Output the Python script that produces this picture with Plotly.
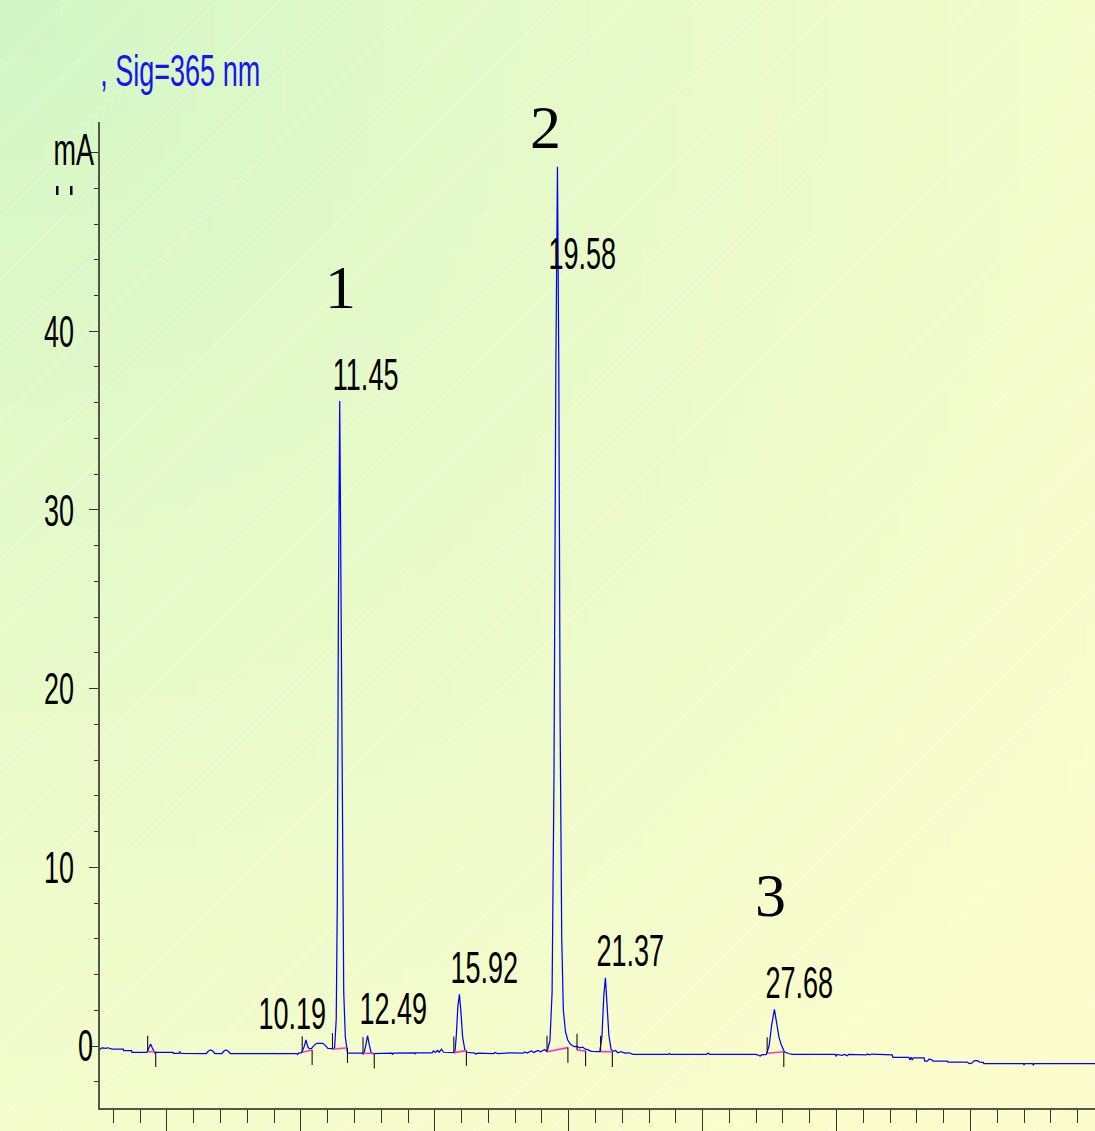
import zlib, struct, base64
import plotly.graph_objects as go

# ---------------- data ----------------
# chromatogram signal: retention time (min) and response (mAU)
sig_t = [2.50, 2.55, 2.62, 2.70, 2.80, 2.95, 3.37, 3.38, 3.68, 3.69,
         4.25, 4.33, 4.39, 4.45, 4.52, 4.55, 4.60, 4.70, 5.23, 5.24, 5.45, 5.48, 5.52,
         6.47, 6.55, 6.63, 6.71, 6.79, 7.05, 7.13, 7.20, 7.28, 7.37,
         9.85, 9.88, 9.92,
         10.03, 10.12, 10.19, 10.26, 10.31, 10.40, 10.50, 10.60, 10.82, 10.90, 11.01, 11.20,
         11.26, 11.32, 11.36, 11.40, 11.45, 11.50, 11.55, 11.60, 11.66, 11.70,
         11.74, 12.30, 12.32, 12.34,
         12.36, 12.43, 12.49, 12.55, 12.62, 12.66,
         13.40, 13.42, 13.46, 14.25, 14.27, 14.30,
         14.90, 14.95, 15.02, 15.10, 15.16, 15.25, 15.33,
         15.75, 15.80, 15.86, 15.92, 15.98, 16.04, 16.12, 16.20,
         16.50, 16.53, 16.60, 17.20, 17.25, 17.35, 17.80, 18.30, 18.35, 18.45, 18.60, 18.70, 18.85, 18.95, 19.10, 19.17,
         19.20, 19.30, 19.38, 19.45, 19.52, 19.58, 19.63, 19.68, 19.74, 19.80, 19.88, 19.96, 20.05, 20.20, 20.30, 20.40,
         20.52, 20.62, 20.70, 20.85, 21.10,
         21.16, 21.24, 21.31, 21.37, 21.43, 21.50, 21.58, 21.66, 21.75, 21.83, 21.95, 22.10, 22.25, 22.40,
         23.72, 23.75, 23.80, 25.15, 25.20, 25.27, 27.00, 27.15, 27.20,
         27.38, 27.48, 27.58, 27.68, 27.76, 27.85, 27.93, 28.05, 28.20, 28.35,
         29.95, 29.98, 30.02, 30.20, 30.30, 30.40, 30.45, 31.10, 31.15, 31.25, 31.30, 32.08, 32.10,
         32.70, 32.74, 32.78, 32.83, 32.86, 33.27, 33.29, 33.40, 33.45, 33.55, 33.60, 34.14, 34.16,
         34.88, 34.95, 35.05, 35.15, 35.25, 35.35, 35.48, 35.50, 36.98, 37.00, 37.03, 37.32, 37.35, 37.38, 39.65]
sig_v = [-0.20, -0.12, -0.10, -0.13, -0.10, -0.18, -0.18, -0.26, -0.26, -0.35,
         -0.35, -0.10, 0.11, -0.10, -0.33, -0.40, -0.35, -0.35, -0.35, -0.41, -0.41, -0.33, -0.41,
         -0.42, -0.28, -0.22, -0.28, -0.42, -0.42, -0.28, -0.22, -0.28, -0.42,
         -0.42, -0.48, -0.40,
         -0.37, -0.05, 0.34, -0.05, -0.15, -0.13, 0.05, 0.15, 0.15, 0.05, -0.13, -0.15,
         -0.10, 1.5, 8.0, 24.0, 36.1, 25.0, 10.0, 3.0, 0.5, -0.05,
         -0.40, -0.40, -0.47, -0.40,
         -0.40, 0.10, 0.58, 0.10, -0.35, -0.42,
         -0.40, -0.48, -0.40, -0.38, -0.45, -0.38,
         -0.38, -0.27, -0.36, -0.25, -0.35, -0.18, -0.35,
         -0.37, 0.50, 2.20, 2.89, 1.80, 0.50, -0.20, -0.35,
         -0.40, -0.46, -0.40, -0.42, -0.36, -0.42, -0.38, -0.40, -0.33, -0.40, -0.28, -0.36, -0.25, -0.32, -0.20, -0.30,
         -0.25, 0.30, 3.0, 15.0, 38.0, 49.2, 38.0, 18.0, 6.0, 2.0, 0.80, 0.35, 0.12, -0.04, -0.02, -0.10,
         -0.06, -0.18, -0.20, -0.30, -0.32,
         -0.32, 0.50, 2.80, 3.82, 2.50, 0.60, -0.18, -0.30, -0.25, -0.38, -0.32, -0.40, -0.38, -0.47,
         -0.47, -0.42, -0.47, -0.47, -0.40, -0.47, -0.47, -0.56, -0.50,
         -0.47, 0.00, 1.20, 2.05, 1.40, 0.50, 0.10, -0.32, -0.42, -0.47,
         -0.47, -0.56, -0.47, -0.52, -0.47, -0.55, -0.47, -0.50, -0.45, -0.50, -0.45, -0.50, -0.63,
         -0.63, -0.78, -0.63, -0.78, -0.66, -0.66, -0.84, -0.84, -0.74, -0.76, -0.84, -0.84, -0.90,
         -0.90, -0.98, -0.96, -0.82, -0.82, -0.90, -0.92, -0.99, -0.99, -1.06, -0.99, -0.99, -1.08, -0.99, -0.99]

# labelled peaks
peak_rt = [10.19, 11.45, 12.49, 15.92, 19.58, 21.37, 27.68]
# numbered compounds
compound_no = ["1", "2", "3"]
compound_rt = [11.45, 19.58, 27.68]

# integration events: peak start / end (time, baseline level)
start_t = [4.28, 10.05, 11.18, 12.32, 15.71, 19.19, 20.31, 21.19, 27.41]
start_v = [-0.32, -0.35, -0.18, -0.41, -0.37, -0.32, -0.22, -0.32, -0.41]
end_t = [4.58, 10.42, 11.74, 12.74, 16.18, 19.97, 20.63, 21.63, 28.03]
end_v = [-0.32, -0.22, -0.10, -0.41, -0.26, -0.09, -0.28, -0.32, -0.32]

# y tick labels
ytick_vals = [0, 10, 20, 30, 40, 50]
ytick_text = ["", "10", "20", "30", "40", ""]

# ---------------- styling / layout constants ----------------
W, H = 1095, 1131
SANS = "Liberation Sans, Arial, sans-serif"
SERIF = "Liberation Serif, DejaVu Serif, serif"
FS = 45
TICK_UP = 0.90
TICK_DN = 0.85

# background gradient image (green top-left -> pale yellow)
def make_png(w, h):
    g = (210, 246, 198)
    yl = (251, 253, 204)
    rows = []
    for j in range(h):
        row = bytearray([0])
        for i in range(w):
            r = ((i / (w - 1)) ** 2 + (j / (h - 1)) ** 2) ** 0.5
            t = min(1.0, r / 1.25)
            t = t ** 0.8
            for k in range(3):
                row.append(int(round(g[k] + (yl[k] - g[k]) * t)))
        rows.append(bytes(row))
    raw = b"".join(rows)

    def chunk(tag, data):
        return (struct.pack(">I", len(data)) + tag + data +
                struct.pack(">I", zlib.crc32(tag + data) & 0xffffffff))

    png = (b"\x89PNG\r\n\x1a\n" +
           chunk(b"IHDR", struct.pack(">IIBBBBB", w, h, 8, 2, 0, 0, 0)) +
           chunk(b"IDAT", zlib.compress(raw, 9)) + chunk(b"IEND", b""))
    return "data:image/png;base64," + base64.b64encode(png).decode()

bg_src = make_png(64, 66)

fig = go.Figure()

# signal
fig.add_trace(go.Scatter(x=sig_t, y=sig_v, mode="lines",
                         line=dict(color="#0000ff", width=1.25),
                         hoverinfo="skip", showlegend=False))

# integration baselines (magenta)
bx, by = [], []
for i in range(len(start_t)):
    bx += [start_t[i], end_t[i], None]
    by += [start_v[i], end_v[i], None]
fig.add_trace(go.Scatter(x=bx, y=by, mode="lines",
                         line=dict(color="#ff33cc", width=1.6),
                         hoverinfo="skip", showlegend=False))

# event tick marks
ex, ey = [], []
for i in range(len(start_t)):
    ex += [start_t[i], start_t[i], None]
    ey += [start_v[i], start_v[i] + TICK_UP, None]
for i in range(len(end_t)):
    ex += [end_t[i], end_t[i], None]
    ey += [end_v[i], end_v[i] - TICK_DN, None]
fig.add_trace(go.Scatter(x=ex, y=ey, mode="lines",
                         line=dict(color="#111111", width=1.1),
                         hoverinfo="skip", showlegend=False))

# peak apex lookup from the signal
def apex(rt):
    best = min(range(len(sig_t)), key=lambda k: abs(sig_t[k] - rt))
    return sig_v[best]

annotations = []
# retention-time labels (placement offsets)
lab_dx = {10.19: -0.49}
lab_cap = 44.35
for rt in peak_rt:
    xx = rt + lab_dx.get(rt, 0.95)
    yy = min(apex(rt) + 1.5, lab_cap)
    annotations.append(dict(x=xx, y=yy, xref="x", yref="y", text=f"{rt:.2f}",
                            showarrow=False, xanchor="center", yanchor="middle",
                            font=dict(family=SANS, size=FS, color="#000000")))
# compound numbers
num_pos = {"1": 42.47, "2": 51.43, "3": 8.45}
num_dx = {"1": 0.04, "2": -0.44, "3": -0.14}
for n, rt in zip(compound_no, compound_rt):
    annotations.append(dict(x=rt + num_dx[n], y=num_pos[n], xref="x", yref="y", text=n,
                            showarrow=False, xanchor="center", yanchor="middle",
                            font=dict(family=SERIF, size=62, color="#000000")))
# title, unit and the zero label
annotations.append(dict(x=180 / W, y=(H - 70) / H, xref="paper", yref="paper",
                        text=", Sig=365 nm", showarrow=False, xanchor="center", yanchor="middle",
                        font=dict(family=SANS, size=FS, color="#1414f5")))
annotations.append(dict(x=74.5 / W, y=(H - 150) / H, xref="paper", yref="paper",
                        text="mA", showarrow=False, xanchor="center", yanchor="middle",
                        font=dict(family=SANS, size=FS, color="#000000")))
annotations.append(dict(x=85.5 / W, y=(H - 1045) / H, xref="paper", yref="paper",
                        text="0", showarrow=False, xanchor="center", yanchor="middle",
                        font=dict(family=SANS, size=FS, color="#000000")))

shapes = []
# faint diagonal hatch lines
step = 70 / W
k = -H / W
while k < 1.0:
    shapes.append(dict(type="line", xref="paper", yref="paper", x0=k, y0=0,
                       x1=k + H / W, y1=1, layer="below",
                       line=dict(color="rgba(255,255,255,0.45)", width=1)))
    k += step
# two small marks under "mA"
for px in (56, 70):
    shapes.append(dict(type="rect", xref="paper", yref="paper",
                       x0=px / W, x1=(px + 2.5) / W, y0=(H - 195) / H, y1=(H - 186) / H,
                       fillcolor="#000000", line=dict(width=0)))

fig.update_layout(
    width=W, height=H,
    margin=dict(l=0, r=0, t=0, b=0),
    paper_bgcolor="#f0fbcc",
    plot_bgcolor="rgba(0,0,0,0)",
    images=[dict(source=bg_src, xref="paper", yref="paper", x=0, y=1,
                 sizex=1, sizey=1, xanchor="left", yanchor="top",
                 sizing="stretch", layer="below")],
    annotations=annotations,
    shapes=shapes,
    showlegend=False,
    xaxis=dict(domain=[100 / W, 1], range=[2.5, 39.65], showline=True,
               linecolor="#55554a", linewidth=2, mirror=False,
               ticks="outside", tickmode="linear", tick0=0, dtick=5,
               ticklen=22, tickwidth=1.3, tickcolor="#333333",
               showticklabels=False, showgrid=False, zeroline=False,
               minor=dict(ticks="outside", tickmode="linear", tick0=0, dtick=1,
                          ticklen=13, tickwidth=1.3, tickcolor="#333333", showgrid=False)),
    yaxis=dict(domain=[(H - 1108) / H, (H - 122) / H], range=[-3.47, 51.71],
               showline=True, linecolor="#55554a", linewidth=2,
               ticks="outside", tickmode="array", tickvals=ytick_vals,
               ticktext=ytick_text,
               ticklen=9, tickwidth=1.3, tickcolor="#333333",
               ticklabelstandoff=6,
               tickfont=dict(family=SANS, size=FS, color="#000000"),
               showgrid=False, zeroline=False,
               minor=dict(ticks="outside", tickmode="linear", tick0=0, dtick=2,
                          ticklen=4, tickwidth=1.3, tickcolor="#333333", showgrid=False)),
)

# page without body margin; condense the sans-serif texts horizontally
post = """
document.body.style.margin = '0';
var gd = document.getElementById('{plot_id}');
function squeeze() {
  var els = gd.querySelectorAll('.annotation-text, .ytick text');
  els.forEach(function (el) {
    var fam = (el.style.fontFamily || '');
    if (fam.indexOf('Serif') >= 0) return;
    if (el.getAttribute('data-sq')) return;
    var L = el.getComputedTextLength();
    if (!L) return;
    el.setAttribute('textLength', (L * 0.6).toFixed(1));
    el.setAttribute('lengthAdjust', 'spacingAndGlyphs');
    el.setAttribute('data-sq', '1');
  });
}
squeeze();
gd.on('plotly_afterplot', function () { squeeze(); });
"""
fig.write_html("out.html", post_script=post, config={"displayModeBar": False})
